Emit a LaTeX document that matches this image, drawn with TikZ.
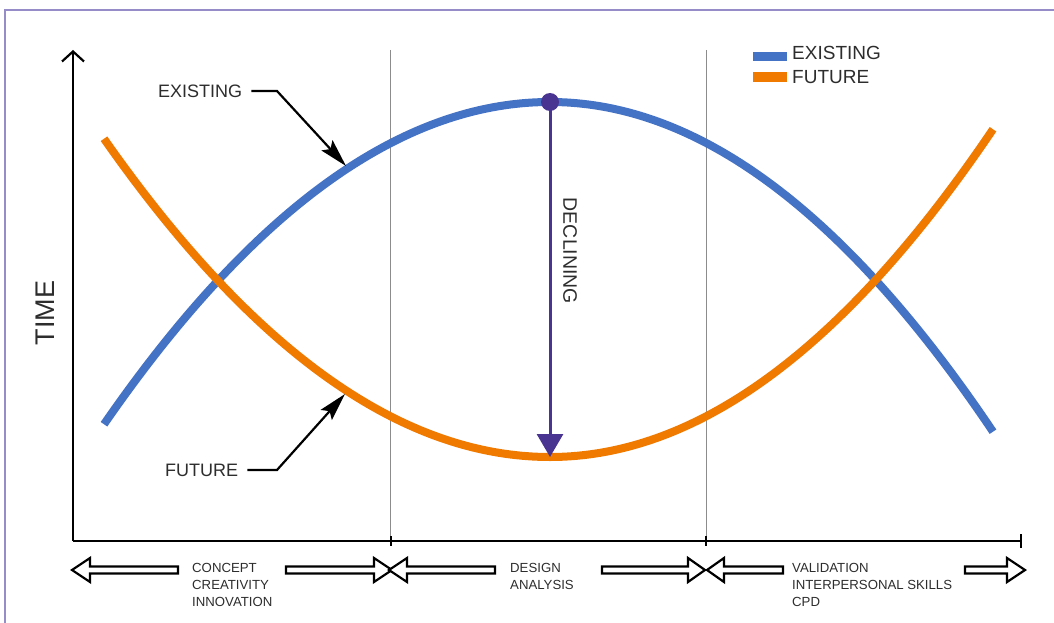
\documentclass[tikz,border=0pt]{standalone}
\usepackage{fontspec}
\setmainfont{Liberation Sans}
\usetikzlibrary{arrows.meta}
\definecolor{exblue}{RGB}{68,114,196}
\definecolor{futorange}{RGB}{240,122,0}
\definecolor{declpurple}{RGB}{74,52,146}
\definecolor{framecol}{RGB}{150,140,200}
\definecolor{txtgray}{RGB}{45,45,45}
\newcommand{\blkarrow}[3]{\draw[blockarrow] (#1,570) -- (#2,558) -- (#2,566.5) -- (#3,566.5) -- (#3,573.5) -- (#2,573.5) -- (#2,582) -- cycle;}
\tikzset{
  blockarrow/.style={draw=black, fill=white, line width=2.2pt, line join=miter},
  excurve/.style={draw=exblue, line width=8pt},
  futcurve/.style={draw=futorange, line width=8pt},
  divider/.style={draw=black!45, line width=0.8pt},
  axisline/.style={draw=black, line width=2.2pt},
  labtext/.style={text=txtgray, inner sep=0pt, font=\fontsize{18}{20}\selectfont},
  smalltext/.style={text=txtgray, inner sep=0pt, align=left, font=\fontsize{13.2}{17}\selectfont},
  pointer/.style={draw=black, line width=2.2pt, -{Stealth[length=28pt,width=15pt,inset=5pt]}},
}
\begin{document}
\begin{tikzpicture}[x=1pt,y=-1pt]
\useasboundingbox (0,0) rectangle (1054,623);
% frame
\draw[framecol, line width=2pt] (5,623) -- (5,10) -- (1054,10);
% dividers
\draw[divider] (390,50) -- (390,541);
\draw[divider] (706,50) -- (706,541);
% axes
\coordinate (origin) at (73,541);
\coordinate (ytop) at (73,50);
\coordinate (xend) at (1022,541);
\draw[axisline, -{Straight Barb[length=10pt,width=22pt]}] (origin) -- (ytop);
\draw[axisline, -{Bar[width=14pt]}] (origin) -- (xend);
\draw[line width=1.6pt] (391,536) -- (391,546);
\draw[line width=1.6pt] (706,536) -- (706,546);
% curves
\draw[excurve] plot[domain=104:550, samples=80] (\x, {102+16.2*((\x-550)/100)^2})
  -- plot[domain=550:993, samples=80] (\x, {102+16.8*((\x-550)/100)^2});
\draw[futcurve] plot[domain=104:550, samples=80] (\x, {457-16.0*((\x-550)/100)^2})
  -- plot[domain=550:993, samples=80] (\x, {457-16.7*((\x-550)/100)^2});
% declining
\node[circle, fill=declpurple, inner sep=0pt, minimum size=18pt] (peak) at (550,102) {};
\coordinate (trough) at (550,457);
\draw[declpurple, line width=3pt, -{Triangle[length=23pt,width=26pt]}] (peak.center) -- (trough);
\node[labtext, rotate=-90, font=\fontsize{19.5}{22}\selectfont] (decl) at (570,251) {DECLINING};
% TIME
\node[labtext, rotate=90, font=\fontsize{27}{30}\selectfont] (time) at (45,313) {TIME};
% labels with pointers
\node[labtext, anchor=west] (exlab) at (158,91) {EXISTING};
\coordinate (exbend) at (277,91);
\coordinate (extip) at (346,166);
\draw[pointer] ([xshift=9pt]exlab.east) -- (exbend) -- (extip);
\node[labtext, anchor=west] (futlab) at (165,470) {FUTURE};
\coordinate (futbend) at (277,470);
\coordinate (futtip) at (345,394);
\draw[pointer] ([xshift=9pt]futlab.east) -- (futbend) -- (futtip);
% legend
\fill[exblue] (753,52) rectangle (787,61);
\fill[futorange] (753,72) rectangle (787,82);
\node[labtext, anchor=west, font=\fontsize{19}{21}\selectfont] (legex) at (792,53) {EXISTING};
\node[labtext, anchor=west, font=\fontsize{19}{21}\selectfont] (legfut) at (792,77) {FUTURE};
% bottom block arrows
\blkarrow{72}{90}{178}
\blkarrow{392}{374}{286}
\blkarrow{389}{407}{495}
\blkarrow{705}{688}{602}
\blkarrow{707}{724}{783}
\blkarrow{1025}{1007}{965}
\node[smalltext, anchor=north west] (ph1) at (192,563) {CONCEPT\\CREATIVITY\\INNOVATION};
\node[smalltext, anchor=north west] (ph2) at (510,563) {DESIGN\\ANALYSIS};
\node[smalltext, anchor=north west] (ph3) at (792,563) {VALIDATION\\INTERPERSONAL SKILLS\\CPD};
\end{tikzpicture}
\end{document}
